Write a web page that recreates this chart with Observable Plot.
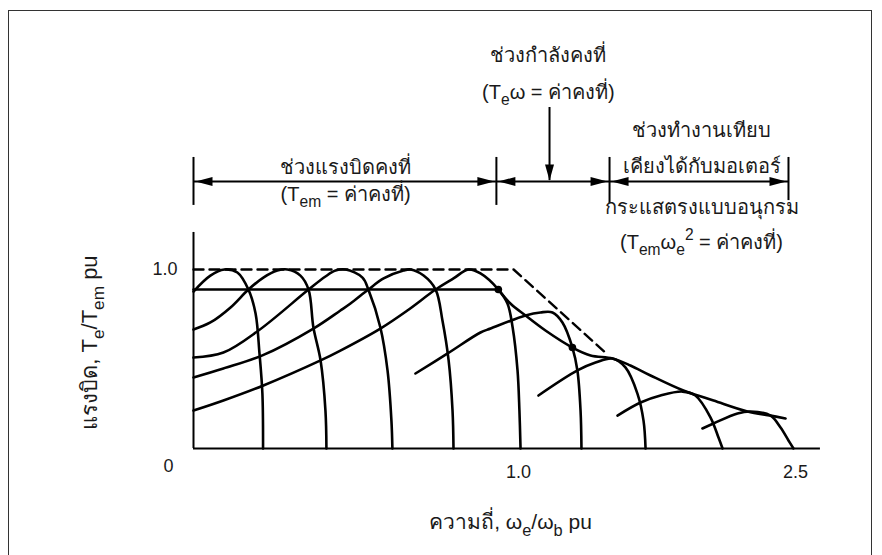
<!DOCTYPE html>
<html>
<head>
<meta charset="utf-8">
<script src="https://cdn.jsdelivr.net/npm/d3@7"></script>
<script src="https://cdn.jsdelivr.net/npm/@observablehq/plot@0.6"></script>
<style>
  body { margin: 0; background: #fff; }
  #wrap { position: relative; width: 882px; height: 555px; overflow: hidden; background: #fff; }
  #border { position: absolute; left: 8px; top: 10px; width: 864px; height: 600px; border: 1.5px solid #333; box-sizing: border-box; }
  #chart { position: absolute; left: 0; top: 0; }
</style>
</head>
<body>
<div id="wrap"><div id="border"></div><div id="chart"></div></div>
<script>
// ---------- data (x: frequency pu, y: torque pu) ----------
const xTicks = [1.0, 2.5];
const yTicks = [1.0];
const originLabel = ["0"];

const curve1 = [[0,0.877],[0.052,0.966],[0.095,1.0],[0.135,0.983],[0.169,0.888],[0.191,0.754],[0.203,0.531],[0.212,0.307],[0.214,0]];
const curve2 = [[0,0.665],[0.052,0.704],[0.114,0.788],[0.169,0.888],[0.215,0.955],[0.258,0.994],[0.289,1.0],[0.329,0.966],[0.354,0.888],[0.369,0.676],[0.391,0.492],[0.406,0.212],[0.409,0]];
const curve3 = [[0,0.508],[0.092,0.536],[0.200,0.659],[0.354,0.888],[0.406,0.961],[0.437,0.994],[0.468,1.0],[0.520,0.955],[0.538,0.888],[0.575,0.676],[0.597,0.436],[0.609,0.156],[0.612,0]];
const curve4 = [[0,0.397],[0.092,0.447],[0.212,0.520],[0.369,0.670],[0.452,0.771],[0.483,0.810],[0.538,0.888],[0.585,0.950],[0.646,0.994],[0.668,1.0],[0.708,0.966],[0.745,0.888],[0.766,0.715],[0.785,0.492],[0.797,0.212],[0.800,0]];
const curve5 = [[0,0.212],[0.092,0.268],[0.215,0.352],[0.391,0.492],[0.452,0.547],[0.575,0.670],[0.658,0.771],[0.745,0.888],[0.800,0.950],[0.846,1.0],[0.883,0.978],[0.938,0.888],[0.966,0.810],[0.982,0.676],[0.997,0.436],[1.005,0.212],[1.011,0]];
const curve6 = [[0.683,0.419],[0.782,0.531],[0.883,0.648],[0.914,0.670],[1.038,0.743],[1.119,0.760],[1.184,0.760],[1.238,0.704],[1.292,0.564],[1.319,0.436],[1.336,0.212],[1.341,0]];
const curve7 = [[1.108,0.296],[1.319,0.436],[1.417,0.480],[1.509,0.503],[1.579,0.453],[1.644,0.307],[1.677,0.156],[1.688,0]];
const curve8 = [[1.536,0.184],[1.661,0.257],[1.769,0.296],[1.888,0.318],[1.958,0.296],[2.040,0.173],[2.083,0.061],[2.105,0]];
const curve9 = [[1.996,0.112],[2.056,0.140],[2.186,0.196],[2.256,0.207],[2.365,0.184],[2.419,0.117],[2.462,0.045],[2.489,0]];
const envelope = [[0.938,0.888],[0.975,0.810],[1.038,0.743],[1.146,0.659],[1.292,0.564],[1.390,0.520],[1.509,0.503],[1.606,0.464],[1.715,0.408],[1.893,0.324],[2.056,0.268],[2.240,0.207],[2.365,0.184],[2.446,0.168]];
const limitDashed = [[0,1.0],[0.985,1.0],[1.482,0.525]];
const ratedTorque = [[0,0.888],[0.938,0.888]];
const markedPoints = [[0.938,0.888],[1.292,0.564]];

// region annotations (in the same x / y units)
const regionBarsX = [0, 0.932, 1.493, 2.462];
const regionBarsTop = [1.626, 1.626, 1.626, 1.626];
const regionBarsBottom = [1.358, 1.358, 1.369, 1.385];
const regionSpans = [[0, 0.932], [0.932, 1.493], [1.493, 2.462]];
const regionArrowY = 1.492;
const powerArrow = {x: 1.168, from: 1.905, to: 1.497};

const labelTexts = [
  "ช่วงกำลังคงที่",
  "(T_{e}ω = ค่าคงที่)",
  "ช่วงแรงบิดคงที่",
  "(T_{em} = ค่าคงที่)",
  "ช่วงทำงานเทียบ",
  "เคียงได้กับมอเตอร์",
  "กระแสตรงแบบอนุกรม",
  "(T_{em}ω_{e}^{2} = ค่าคงที่)"
];
const labelX = [1.162, 1.162, 0.468, 0.468, 1.991, 1.991, 1.991, 1.991];
const labelY = [2.196, 1.989, 1.570, 1.419, 1.777, 1.575, 1.346, 1.151];

const yAxisLabel = "แรงบิด, T_{e}/T_{em} pu";
const xAxisLabel = "ความถี่, ω_{e}/ω_{b} pu";

// ---------- build tables ----------
const curves = [curve1, curve2, curve3, curve4, curve5, curve6, curve7, curve8, curve9, envelope];
const curveRows = curves.flatMap((c, i) => c.map(([x, y]) => ({id: i, x, y})));
const labels = labelTexts.map((t, i) => ({t, x: labelX[i], y: labelY[i]}));
const bars = regionBarsX.map((x, i) => ({x, y1: regionBarsBottom[i], y2: regionBarsTop[i]}));
const spans = regionSpans.map(([x1, x2]) => ({x1, x2, y: regionArrowY}));

// filled arrowheads as custom symbols
const headRight = {draw(c) { c.moveTo(0, 0); c.lineTo(-17, -4.5); c.lineTo(-17, 4.5); c.closePath(); }};
const headLeft  = {draw(c) { c.moveTo(0, 0); c.lineTo(17, -4.5); c.lineTo(17, 4.5); c.closePath(); }};
const headDown  = {draw(c) { c.moveTo(0, 0); c.lineTo(-4.5, -16); c.lineTo(4.5, -16); c.closePath(); }};

const FONT = '"Liberation Sans Narrow", "Liberation Sans", Arial, sans-serif';
const INK = "#000";
const TXT = "#1a1a1a";

const chart = Plot.plot({
  width: 882,
  height: 555,
  marginTop: 232, marginRight: 62, marginBottom: 107, marginLeft: 193,
  style: {fontFamily: FONT, fontSize: "17px", color: TXT, background: "transparent", overflow: "visible"},
  x: {type: "linear", domain: [0, 1.0, 2.5], range: [193, 518, 795]},
  y: {type: "linear", domain: [0, 1], range: [448, 269]},
  marks: [
    // axes lines
    Plot.ruleY([0], {x1: 0, x2: 2.635, stroke: INK, strokeWidth: 2}),
    Plot.ruleX([0], {y1: 0, y2: 1.207, stroke: INK, strokeWidth: 2}),
    Plot.axisX(xTicks, {tickSize: 0, tickPadding: 17, tickFormat: d => d.toFixed(1), fontSize: 18, fill: TXT, label: null}),
    Plot.axisY(yTicks, {tickSize: 0, tickPadding: 16, tickFormat: d => d.toFixed(1), fontSize: 18, fill: TXT, label: null}),
    Plot.text(originLabel, {x: 0, y: 0, text: d => d, dx: -25, dy: 18, fontSize: 18, fill: TXT}),
    // limits
    Plot.line(limitDashed, {x: d => d[0], y: d => d[1], stroke: INK, strokeWidth: 2.4, strokeDasharray: "10,6"}),
    Plot.line(ratedTorque, {x: d => d[0], y: d => d[1], stroke: INK, strokeWidth: 2.6}),
    // torque-speed curves
    Plot.line(curveRows, {x: "x", y: "y", z: "id", curve: "catmull-rom", stroke: INK, strokeWidth: 2.6, strokeLinecap: "round", strokeLinejoin: "round"}),
    Plot.dot(markedPoints, {x: d => d[0], y: d => d[1], r: 3.8, fill: INK, stroke: "none"}),
    // region markers
    Plot.ruleX(bars, {x: "x", y1: "y1", y2: "y2", stroke: INK, strokeWidth: 2}),
    Plot.ruleY(spans, {x1: "x1", x2: "x2", y: "y", stroke: INK, strokeWidth: 2}),
    Plot.dot(spans, {x: "x1", y: "y", dx: 2, symbol: headLeft, fill: INK, stroke: "none"}),
    Plot.dot(spans, {x: "x2", y: "y", dx: -2, symbol: headRight, fill: INK, stroke: "none"}),
    Plot.ruleX([powerArrow], {x: "x", y1: "from", y2: "to", stroke: INK, strokeWidth: 2}),
    Plot.dot([powerArrow], {x: "x", y: "to", symbol: headDown, fill: INK, stroke: "none"}),
    // labels
    Plot.text(labels, {x: "x", y: "y", text: "t", fontSize: 20, fill: TXT}),
    Plot.text([yAxisLabel], {x: 0, y: 0.592, text: d => d, dx: -104, rotate: -90, fontSize: 22, fill: TXT}),
    Plot.text([xAxisLabel], {x: 1, y: 0, text: d => d, dx: -8, dy: 74, fontSize: 21, fill: TXT})
  ]
});

document.getElementById("chart").appendChild(chart);

// render _{sub} and ^{sup} markup as real tspans
const SVGNS = "http://www.w3.org/2000/svg";
function richify(t) {
  const s = t.textContent;
  if (!/[_^]\{/.test(s)) return;
  const fs = parseFloat(t.closest("[font-size]")?.getAttribute("font-size")) || 20;
  while (t.firstChild) t.removeChild(t.firstChild);
  const re = /([_^])\{([^}]*)\}/g;
  let last = 0, cur = 0, m;
  const add = (txt, off, small) => {
    if (!txt) return;
    const ts = document.createElementNS(SVGNS, "tspan");
    ts.textContent = txt;
    const d = off - cur;
    if (d) ts.setAttribute("dy", d.toFixed(1));
    if (small) ts.setAttribute("font-size", (fs * 0.78).toFixed(1));
    cur = off;
    t.appendChild(ts);
  };
  while ((m = re.exec(s))) {
    add(s.slice(last, m.index), 0, false);
    add(m[2], m[1] === "_" ? fs * 0.32 : -fs * 0.42, true);
    last = re.lastIndex;
  }
  add(s.slice(last), 0, false);
}
chart.querySelectorAll("text").forEach(richify);
</script>
</body>
</html>
